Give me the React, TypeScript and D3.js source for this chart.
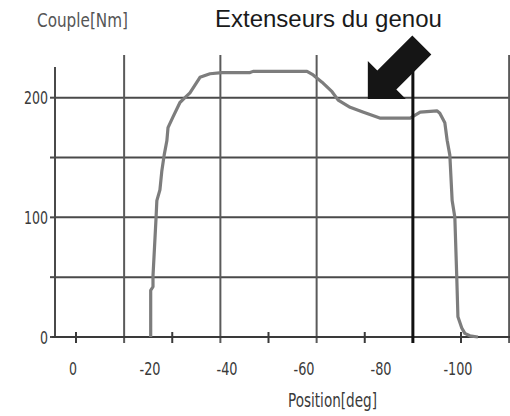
import React from "react";
import * as d3 from "d3";

// Torque curve: knee extensors, position (deg) vs torque (Nm)
const curveDeg = [
  -19.4, -19.4, -20.0, -20.0, -20.8, -21.0, -21.8, -22.3, -22.9, -23.6, -23.9, -25.2,
  -27.0, -28.3, -29.6, -32.2, -34.8, -37.9, -45.2, -46.0, -60.0, -61.6, -63.9, -66.5,
  -68.1, -71.2, -74.5, -78.9, -86.8, -89.4, -93.8, -94.5, -95.8, -96.4, -97.1, -97.7,
  -98.4, -98.9, -99.2, -100.2, -101.0, -102.3, -104.4,
];
const curveTorque = [
  0, 39, 42, 51, 100, 114, 123, 139, 152, 164, 175, 184,
  196, 200, 204, 217, 220, 221, 221, 222, 222, 219, 213, 205,
  198, 192, 188, 183, 183, 188, 189, 187, 179, 164.5, 152, 114,
  100, 50, 17, 7.5, 3, 1, 0,
];

const xTickLabels = [0, -20, -40, -60, -80, -100];
const xMinorTicks = [0, -25, -50, -75, -100];
const xGridLines = [-12.5, -37.5, -62.5, -112.5];
const markerLine = -87.5;
const yGridLines = [0, 50, 100, 150, 200];
const yTickLabels = [0, 100, 200];

const title = "Extenseurs du genou";
const yTitle = "Couple[Nm]";
const xTitle = "Position[deg]";
const arrowTip = { deg: -75.8, torque: 199 };

function labelWidth(s: string) {
  let w = 0;
  for (const c of s) w += c === "-" ? 5 : 8;
  return w;
}

export default function App() {
  const W = 510;
  const H = 416;
  const x = d3.scaleLinear().domain([0, -100]).range([76, 461]);
  const y = d3.scaleLinear().domain([0, 200]).range([337, 97.7]);
  const left = 55;
  const right = 510;
  const top = 55;
  const bottom = y(0);

  const line = d3
    .line<number>()
    .x((_, i) => x(curveDeg[i]))
    .y((_, i) => y(curveTorque[i]));
  const pathD = line(curveTorque) || "";

  const tx = x(arrowTip.deg);
  const ty = y(arrowTip.torque);
  const arrowPts: [number, number][] = [
    [0, 0],
    [0, -38],
    [9.5, -28.5],
    [44.5, -63.5],
    [63.5, -44.5],
    [28.5, -9.5],
    [38, 0],
  ];
  const arrowD =
    "M" + arrowPts.map(([dx, dy]) => `${tx + dx},${ty + dy}`).join("L") + "Z";

  const labelFont = "'Liberation Sans Narrow', 'DejaVu Sans Condensed', 'Liberation Sans', sans-serif";

  return (
    <svg width={W} height={H} style={{ position: "absolute", left: 0, top: 0, background: "#fff" }}>
      <rect x={0} y={0} width={W} height={H} fill="#fff" />
      {/* horizontal grid */}
      {yGridLines.map((v) => (
        <g key={"h" + v}>
          <line x1={left} x2={right} y1={y(v)} y2={y(v)} stroke="#4a4a4a" strokeWidth={2} />
          <line x1={50} x2={left} y1={y(v)} y2={y(v)} stroke="#4a4a4a" strokeWidth={2} />
        </g>
      ))}
      {/* vertical grid */}
      {xGridLines.map((v) => (
        <line key={"v" + v} x1={x(v)} x2={x(v)} y1={top} y2={bottom + 6} stroke="#5a5a5a" strokeWidth={2} />
      ))}
      {/* y axis */}
      <line x1={left} x2={left} y1={67} y2={bottom} stroke="#4a4a4a" strokeWidth={2} />
      {/* x axis */}
      <line x1={52} x2={right} y1={bottom} y2={bottom} stroke="#3a3a3a" strokeWidth={2} />
      {xMinorTicks.map((v) => (
        <line key={"t" + v} x1={x(v)} x2={x(v)} y1={bottom - 5} y2={bottom + 6} stroke="#3a3a3a" strokeWidth={2} />
      ))}
      {/* curve */}
      <path d={pathD} fill="none" stroke="#7d7d7d" strokeWidth={3.2} strokeLinejoin="round" />
      {/* marker line */}
      <line x1={x(markerLine)} x2={x(markerLine)} y1={top} y2={bottom + 6} stroke="#111" strokeWidth={3} />
      {/* arrow */}
      <path d={arrowD} fill="#151515" />
      {/* tick labels */}
      {yTickLabels.map((v) => (
        <text key={"yl" + v} x={48} y={y(v) + 6.5} textAnchor="end" fontSize={18} fontFamily={labelFont} fill="#3a3a3a"
          textLength={labelWidth(String(v))} lengthAdjust="spacingAndGlyphs">
          {v}
        </text>
      ))}
      {xTickLabels.map((v) => (
        <text key={"xl" + v} x={x(v) - 3} y={375} textAnchor="middle" fontSize={18} fontFamily={labelFont} fill="#3a3a3a"
          textLength={labelWidth(String(v))} lengthAdjust="spacingAndGlyphs">
          {v}
        </text>
      ))}
      <text x={288} y={407} fontSize={19} fontFamily={labelFont} fill="#3a3a3a" textLength={89} lengthAdjust="spacingAndGlyphs">
        {xTitle}
      </text>
      <text x={37} y={27} fontSize={19} fontFamily={labelFont} fill="#555" textLength={91} lengthAdjust="spacingAndGlyphs">
        {yTitle}
      </text>
      <text x={215} y={27} fontSize={24} fontFamily="'Liberation Sans', Arial, sans-serif" fill="#1a1a1a">
        {title}
      </text>
    </svg>
  );
}
